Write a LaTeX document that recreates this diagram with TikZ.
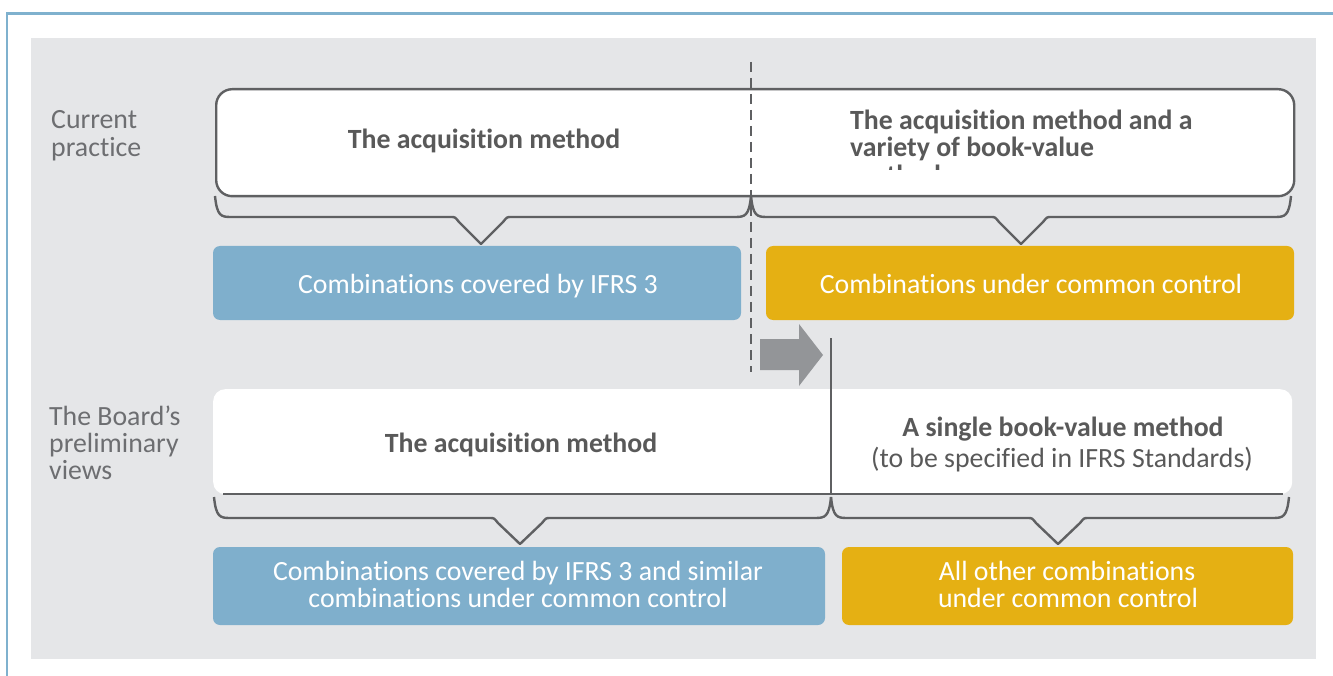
\documentclass[tikz,border=0pt]{standalone}
\usepackage{fontspec}
\setmainfont{Carlito}[Ligatures=NoCommon]
\definecolor{frameblue}{HTML}{7FB1CE}
\definecolor{bggray}{HTML}{E5E6E8}
\definecolor{boxblue}{HTML}{7FAFCC}
\definecolor{boxorange}{HTML}{E5B013}
\definecolor{linegray}{HTML}{5F6062}
\definecolor{txtgray}{HTML}{595959}
\definecolor{lblgray}{HTML}{6D6E71}
\definecolor{arrowgray}{HTML}{939598}
\newcommand{\drawcurlybrace}[6]{% x1 x2 xtip ytop ymid ytip
  \draw[bracestyle] (#1,#4) .. controls ({#1+2},{#5-1}) and ({#1+6},#5) .. ({#1+16},#5)
    -- ({#3-30},#5) .. controls ({#3-26},#5) .. ({#3-22},{#5+5})
    -- (#3,#6) -- ({#3+22},{#5+5}) .. controls ({#3+26},#5) .. ({#3+30},#5)
    -- ({#2-16},#5) .. controls ({#2-6},#5) and ({#2-2},{#5-1}) .. (#2,#4);}
\begin{document}
\begin{tikzpicture}[x=1pt,y=-1pt,
  bracestyle/.style={draw=linegray,line width=2.4pt,line join=round},
  lbl/.style={anchor=base west,text=lblgray,font=\fontsize{27.8}{28}\selectfont,inner sep=0pt},
  btxt/.style={anchor=base,text=txtgray,font=\fontsize{27.8}{28}\selectfont\bfseries,inner sep=0pt},
  rtxt/.style={anchor=base,text=txtgray,font=\fontsize{27.8}{28}\selectfont,inner sep=0pt},
  wtxt/.style={anchor=base,text=white,font=\fontsize{27.8}{28}\selectfont,inner sep=0pt},
  colbox/.style={anchor=north west,rounded corners=7pt,inner sep=0pt,outer sep=0pt,draw=none},
]
\useasboundingbox (0,0) rectangle (1333,676);
% background and frame
\fill[bggray] (31,38) rectangle (1316,659);
\draw[frameblue,line width=2.4pt] (7,676) -- (7,13.5) -- (1333,13.5);

% left labels
\node[lbl] (cp1) at (51,129) {Current};
\node[lbl] (cp2) at (51,157) {practice};
\node[lbl] (bv1) at (49,425) {The Board’s};
\node[lbl] (bv2) at (49,452) {preliminary};
\node[lbl] (bv3) at (49,479) {views};

% top white box
\node[anchor=north west,draw=linegray,line width=2.4pt,fill=white,rounded corners=16pt,
      minimum width=1078pt,minimum height=107pt,inner sep=0pt] (topbox) at (215,88) {};
\coordinate (dashtop) at (751,62);
\coordinate (dashbot) at (751,372);
\draw[linegray,line width=2.4pt,dash pattern=on 10pt off 6pt] (dashtop) -- (dashbot);

\node[btxt] (t1) at (484,149) {The acquisition method};
\begin{scope}
  \clip (840,95) rectangle (1290,170);
  \node[btxt,anchor=base west] (t2a) at (850,130) {The acquisition method and a};
  \node[btxt,anchor=base west] (t2b) at (850,157) {variety of book-value};
  \node[btxt,anchor=base west] (t2c) at (850,185) {methods};
\end{scope}

% top braces
\drawcurlybrace{215}{751}{481}{196}{217}{244}
\drawcurlybrace{751}{1291}{1021}{196}{217}{244}

% top colored boxes
\node[colbox,fill=boxblue,minimum width=528pt,minimum height=74pt] (b1) at (213,246) {};
\node[colbox,fill=boxorange,minimum width=528pt,minimum height=74pt] (o1) at (766,246) {};
\node[wtxt] (b1t) at (478,294) {Combinations covered by IFRS 3};
\node[wtxt] (o1t) at (1031,294) {Combinations under common control};

% arrow
\fill[arrowgray] (760,339) -- (799,339) -- (799,324) -- (823,355) -- (799,386) -- (799,370) -- (760,370) -- cycle;

% lower white box
\node[anchor=north west,fill=white,rounded corners=12pt,minimum width=1079pt,minimum height=105pt,
      inner sep=0pt] (lowbox) at (213,389) {};
\coordinate (lineL) at (223,494);
\coordinate (lineR) at (1283,494);
\draw[linegray,line width=2.4pt] (lineL) -- (lineR);
\coordinate (vtop) at (831,338);
\coordinate (vbot) at (831,494);
\draw[linegray,line width=2.4pt] (vtop) -- (vbot);

\node[btxt] (l1) at (521,452) {The acquisition method};
\node[btxt] (l2a) at (1063,436) {A single book-value method};
\node[rtxt] (l2b) at (1062,467) {(to be specified in IFRS Standards)};

% lower braces
\drawcurlybrace{214}{831}{520}{497}{518}{544}
\drawcurlybrace{831}{1289}{1058}{497}{518}{544}

% lower colored boxes
\node[colbox,fill=boxblue,minimum width=612pt,minimum height=78pt] (b2) at (213,547) {};
\node[colbox,fill=boxorange,minimum width=451pt,minimum height=78pt] (o2) at (842,547) {};
\node[wtxt] (b2a) at (518,580) {Combinations covered by IFRS 3 and similar};
\node[wtxt] (b2b) at (518,607) {combinations under common control};
\node[wtxt] (o2a) at (1067,580) {All other combinations};
\node[wtxt] (o2b) at (1068,607) {under common control};
\end{tikzpicture}
\end{document}
